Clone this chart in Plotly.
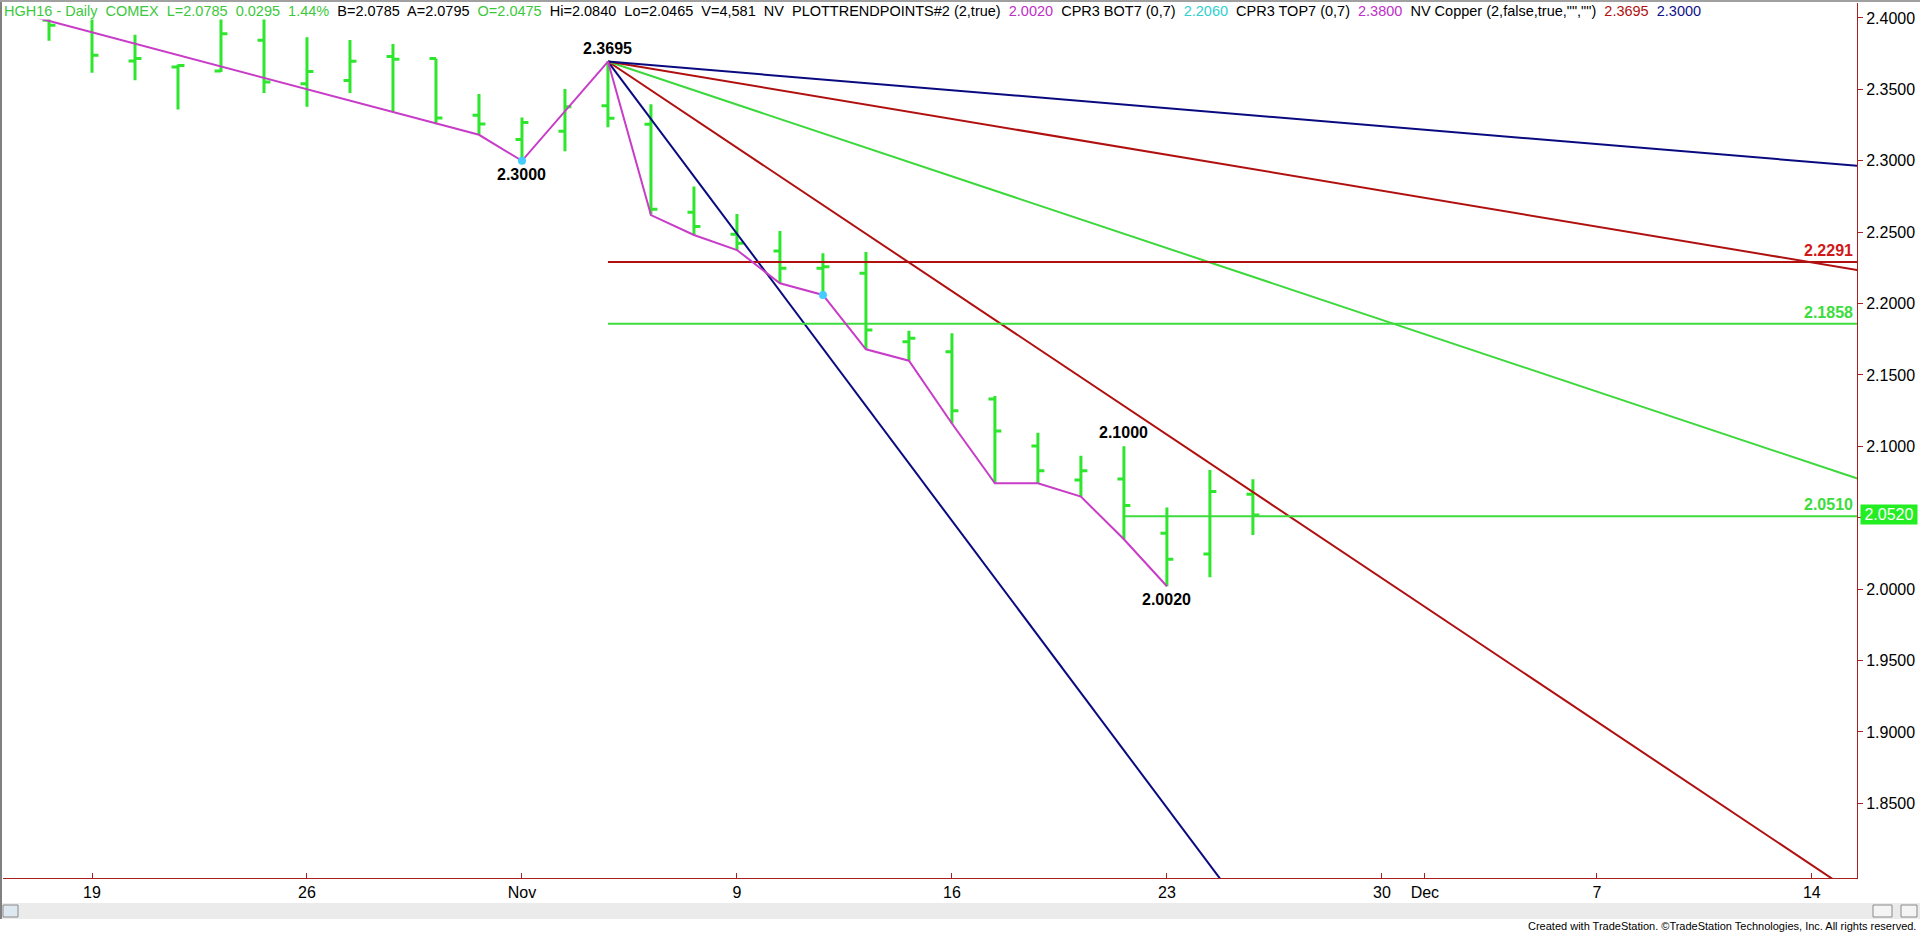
import numpy as np
import plotly.graph_objects as go

# ---------------- data ----------------
base_day = "2015-10-19"

bar_dates = ["2015-10-16", "2015-10-19", "2015-10-20", "2015-10-21", "2015-10-22", "2015-10-23",
             "2015-10-26", "2015-10-27", "2015-10-28", "2015-10-29", "2015-10-30",
             "2015-11-02", "2015-11-03", "2015-11-04", "2015-11-05", "2015-11-06",
             "2015-11-09", "2015-11-10", "2015-11-11", "2015-11-12", "2015-11-13",
             "2015-11-16", "2015-11-17", "2015-11-18", "2015-11-19", "2015-11-20",
             "2015-11-23", "2015-11-24", "2015-11-25"]
opens = [2.3985, 2.4030, 2.3699, 2.3656, 2.3628, 2.3844, 2.3540, 2.3562, 2.3730, 2.3716, 2.3318,
         2.3149, 2.3206, 2.3386, 2.3256, 2.2639, 2.2485, 2.2368, 2.2247, 2.2212, 2.1733,
         2.1663, 2.1332, 2.1003, 2.0765, 2.0772, 2.0391, 2.0246, 2.0665]
highs = [2.4050, 2.4050, 2.3882, 2.3675, 2.4050, 2.4050, 2.3865, 2.3846, 2.3818, 2.3716, 2.3467,
         2.3303, 2.3502, 2.3695, 2.3396, 2.2819, 2.2627, 2.2508, 2.2352, 2.2361, 2.1810,
         2.1792, 2.1353, 2.1096, 2.0935, 2.1000, 2.0571, 2.0835, 2.0770]
lows = [2.3841, 2.3616, 2.3564, 2.3360, 2.3621, 2.3474, 2.3379, 2.3474, 2.3344, 2.3256, 2.3182,
        2.3000, 2.3066, 2.3235, 2.2625, 2.2480, 2.2375, 2.2142, 2.2060, 2.1680, 2.1600,
        2.1160, 2.0741, 2.0741, 2.0648, 2.0349, 2.0020, 2.0083, 2.0379]
closes = [2.3950, 2.3739, 2.3716, 2.3668, 2.3889, 2.3552, 2.3626, 2.3697, 2.3711, 2.3299, 2.3258,
          2.3268, 2.3379, 2.3298, 2.2660, 2.2539, 2.2422, 2.2247, 2.2258, 2.1815, 2.1757,
          2.1250, 2.1108, 2.0830, 2.0830, 2.0585, 2.0209, 2.0683, 2.0520]

# zig-zag trend points (magenta)
zz_dates = ["2015-10-15", "2015-10-30", "2015-11-02", "2015-11-04", "2015-11-05", "2015-11-06",
            "2015-11-09", "2015-11-10", "2015-11-11", "2015-11-12", "2015-11-13", "2015-11-16",
            "2015-11-17", "2015-11-18", "2015-11-19", "2015-11-20", "2015-11-23"]
zz_values = [2.4060, 2.3182, 2.3000, 2.3695, 2.2620, 2.2480, 2.2375, 2.2142, 2.2060, 2.1680,
             2.1600, 2.1160, 2.0741, 2.0741, 2.0648, 2.0349, 2.0020]

# cyan pivot dots
dot_dates = ["2015-11-02", "2015-11-11"]
dot_values = [2.3000, 2.2060]

# Gann fan from the 2.3695 top (price change per trading day)
fan_anchor_date = "2015-11-04"
fan_anchor_value = 2.3695
fan_end_date = "2015-12-21"
fan_slopes = [-0.04020, -0.02010, -0.01005, -0.005025, -0.0025125]
fan_colors = ["#0a0a80", "#b01010", "#3cd83c", "#b01010", "#0a0a80"]

# horizontal levels
level_values = [2.2291, 2.1858, 2.0510]
level_starts = ["2015-11-04", "2015-11-04", "2015-11-20"]
level_colors = ["#b01010", "#3cdc3c", "#3cdc3c"]
level_text_colors = ["#d01818", "#3cdc3c", "#3cdc3c"]

# pivot labels
pivot_dates = ["2015-11-04", "2015-11-02", "2015-11-20", "2015-11-23"]
pivot_values = [2.3695, 2.3000, 2.1000, 2.0020]
pivot_above = [True, False, True, False]

last_price = 2.0520

tick_dates = ["2015-10-19", "2015-10-26", "2015-11-02", "2015-11-09", "2015-11-16",
              "2015-11-23", "2015-11-30", "2015-12-01", "2015-12-07", "2015-12-14"]
tick_labels = ["19", "26", "Nov", "9", "16", "23", "30", "Dec", "7", "14"]

y_ticks = [1.85, 1.90, 1.95, 2.00, 2.05, 2.10, 2.15, 2.20, 2.25, 2.30, 2.35, 2.40]

x_view = [-2.07, 41.05]
y_view = [1.7977, 2.4105]


def idx(d):
    """trading-day position relative to base_day"""
    return float(np.busday_count(base_day, d)) if d >= base_day else -float(np.busday_count(d, base_day))


# ---------------- figure ----------------
W, H = 1920, 934
ML, MR, MT, MB = 3, 63, 3, 56
PW, PH = W - ML - MR, H - MT - MB


def px_x(px):
    return (px - ML) / PW


def px_y(py):
    return (H - MB - py) / PH


fig = go.Figure()

BAR_GREEN = "#2ee62e"

# fan lines
x0 = idx(fan_anchor_date)
x1 = idx(fan_end_date)
for s, c in zip(fan_slopes, fan_colors):
    fig.add_trace(go.Scatter(x=[x0, x1], y=[fan_anchor_value, fan_anchor_value + s * (x1 - x0)],
                             mode="lines", line=dict(color=c, width=2), hoverinfo="skip",
                             showlegend=False))

# horizontal levels
for v, sd, c in zip(level_values, level_starts, level_colors):
    fig.add_trace(go.Scatter(x=[idx(sd), x1], y=[v, v], mode="lines",
                             line=dict(color=c, width=2), hoverinfo="skip", showlegend=False))

# OHLC bars
xb = [idx(d) for d in bar_dates]
fig.add_trace(go.Ohlc(x=xb, open=opens, high=highs, low=lows, close=closes,
                      increasing=dict(line=dict(color=BAR_GREEN, width=3)),
                      decreasing=dict(line=dict(color=BAR_GREEN, width=3)),
                      tickwidth=0.15, showlegend=False, hoverinfo="skip"))

# zigzag
fig.add_trace(go.Scatter(x=[idx(d) for d in zz_dates], y=zz_values, mode="lines",
                         line=dict(color="#c83cc8", width=2), hoverinfo="skip", showlegend=False))

# cyan dots
fig.add_trace(go.Scatter(x=[idx(d) for d in dot_dates], y=dot_values, mode="markers",
                         marker=dict(color="#44ccff", size=8), hoverinfo="skip", showlegend=False))

annotations = []

# pivot labels
for d, v, up in zip(pivot_dates, pivot_values, pivot_above):
    annotations.append(dict(x=idx(d), y=v, xref="x", yref="y", text="<b>%.4f</b>" % v, showarrow=False,
                            yanchor="bottom" if up else "top", yshift=3 if up else -3,
                            font=dict(family="Liberation Sans, Arial", size=16, color="black"),
                            ))

# level labels
for v, c in zip(level_values, level_text_colors):
    annotations.append(dict(x=px_x(1855), y=v, xref="paper", yref="y", text="<b>%.4f</b>" % v,
                            showarrow=False, xanchor="right", yanchor="bottom", yshift=1,
                            font=dict(family="Liberation Sans, Arial", size=16, color=c)))

# last price box
annotations.append(dict(x=px_x(1860), y=last_price, xref="paper", yref="y", text="%.4f" % last_price,
                        showarrow=False, xanchor="left", yanchor="middle", bgcolor="#22ee22",
                        borderpad=1, width=54,
                        font=dict(family="Liberation Sans, Arial", size=16, color="white")))

# header line
G = "#3cc83c"
header = ("<span style='color:%s'>HGH16 - Daily&nbsp; COMEX&nbsp; L=2.0785&nbsp; 0.0295&nbsp; 1.44%%</span>"
          "&nbsp; B=2.0785&nbsp; A=2.0795&nbsp; <span style='color:%s'>O=2.0475</span>&nbsp; Hi=2.0840&nbsp; "
          "Lo=2.0465&nbsp; V=4,581&nbsp; NV&nbsp; PLOTTRENDPOINTS#2 (2,true)&nbsp; "
          "<span style='color:#c030c8'>2.0020</span>&nbsp; CPR3 BOT7 (0,7)&nbsp; "
          "<span style='color:#30d0d0'>2.2060</span>&nbsp; CPR3 TOP7 (0,7)&nbsp; "
          "<span style='color:#c030c8'>2.3800</span>&nbsp; NV Copper (2,false,true,\"\",\"\")&nbsp; "
          "<span style='color:#b01010'>2.3695</span>&nbsp; <span style='color:#10108a'>2.3000</span>") % (G, G)
annotations.append(dict(x=px_x(3), y=px_y(2), xref="paper", yref="paper", text=header, showarrow=False,
                        xanchor="left", yanchor="top", bgcolor="white", borderpad=0,
                        font=dict(family="Liberation Sans, Arial", size=14.5, color="black")))

# footer
annotations.append(dict(x=px_x(1918), y=px_y(934), xref="paper", yref="paper",
                        text="Created with TradeStation. ©TradeStation Technologies, Inc. All rights reserved.",
                        showarrow=False, xanchor="right", yanchor="bottom",
                        font=dict(family="Liberation Sans, Arial", size=11, color="black")))

shapes = []
# scrollbar
shapes.append(dict(type="rect", xref="paper", yref="paper", x0=px_x(2), x1=px_x(1920),
                   y0=px_y(903), y1=px_y(919), fillcolor="#ebebeb", line=dict(width=0), layer="below"))
for bx0, bx1 in [(3, 18), (1873, 1892), (1901, 1917)]:
    shapes.append(dict(type="rect", xref="paper", yref="paper", x0=px_x(bx0), x1=px_x(bx1),
                       y0=px_y(905), y1=px_y(917), fillcolor="#dde8f0" if bx0 < 10 else "#f4f4f4",
                       line=dict(color="#8a8a8a", width=1)))
# frame
shapes.append(dict(type="line", xref="paper", yref="paper", x0=px_x(1), x1=px_x(1),
                   y0=px_y(0), y1=px_y(919), line=dict(color="#808080", width=2)))
shapes.append(dict(type="line", xref="paper", yref="paper", x0=px_x(0), x1=px_x(1920),
                   y0=px_y(1), y1=px_y(1), line=dict(color="#a0a0a0", width=2)))

AX = "#a82020"
fig.update_layout(
    width=W, height=H, margin=dict(l=ML, r=MR, t=MT, b=MB, pad=0),
    paper_bgcolor="white", plot_bgcolor="white", showlegend=False,
    annotations=annotations, shapes=shapes,
    xaxis=dict(range=x_view, tickmode="array", tickvals=[idx(d) for d in tick_dates],
               ticktext=tick_labels, ticks="inside", ticklen=5, tickcolor=AX, showgrid=False,
               zeroline=False, showline=True, linecolor=AX, linewidth=1, rangeslider=dict(visible=False),
               tickfont=dict(family="Liberation Sans, Arial", size=16, color="black"), fixedrange=True),
    yaxis=dict(range=y_view, side="right", tickmode="array", tickvals=y_ticks,
               ticktext=["%.4f" % v for v in y_ticks], ticks="outside", ticklen=5, tickcolor=AX,
               showgrid=False, zeroline=False, showline=True, linecolor=AX, linewidth=1,
               tickfont=dict(family="Liberation Sans, Arial", size=16, color="black"), fixedrange=True),
)

fig.write_html("out.html", config={"displayModeBar": False},
               post_script="document.body.style.margin='0';document.body.style.overflow='hidden';")
